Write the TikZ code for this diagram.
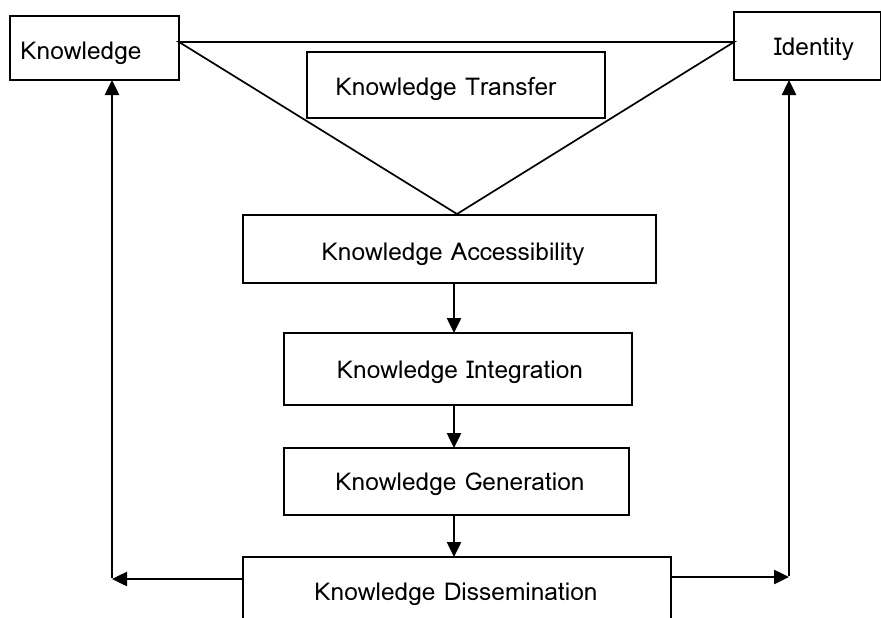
\documentclass[tikz,border=0pt]{standalone}
\usepackage{fontspec}
\newfontfamily\thaifont[Script=Thai]{Loma}
\usetikzlibrary{arrows.meta}
\begin{document}
\begin{tikzpicture}[x=1pt,y=-1pt,
  box/.style={draw,line width=1.7pt},
  lbl/.style={font=\thaifont\fontsize{24.5}{28}\selectfont,inner sep=0pt,yshift=-3pt},
  line/.style={line width=1.7pt},
  arr/.style={line width=2.5pt,-{Triangle[length=15pt,width=14pt]}}]
\useasboundingbox (0,0) rectangle (881,618);
% boxes
\draw[box] (10,16) rectangle (179,80);
\node[lbl] (k) at (81,50) {Knowledge};
\coordinate (kR) at (179,42);
\coordinate (kB) at (112,80);
\draw[box] (734,12) rectangle (880.6,80);
\node[lbl] (id) at (814,46) {Identity};
\coordinate (iL) at (734,42);
\coordinate (iB) at (789,80);
\draw[box] (307,52) rectangle (605,118);
\node[lbl] (kt) at (446,86) {Knowledge Transfer};
\draw[box] (243,215) rectangle (656,283);
\node[lbl] (ka) at (453,251) {Knowledge Accessibility};
\coordinate (apex) at (457,214);
\draw[box] (284,333) rectangle (632,405);
\node[lbl] (ki) at (460,369) {Knowledge Integration};
\draw[box] (284,448) rectangle (629,515);
\node[lbl] (kg) at (460,481) {Knowledge Generation};
\draw[box] (243,640) -- (243,557) -- (671,557) -- (671,640);
\node[lbl] (kd) at (456,591) {Knowledge Dissemination};
% triangle
\draw[line] (kR) -- (iL) -- (apex) -- cycle;
% down arrows
\coordinate (a1) at (454,283); \coordinate (a2) at (454,333);
\coordinate (b1) at (454,405); \coordinate (b2) at (454,448);
\coordinate (c1) at (454,515); \coordinate (c2) at (454,557);
\draw[arr] (a1) -- (a2);
\draw[arr] (b1) -- (b2);
\draw[arr] (c1) -- (c2);
% side arrows
\coordinate (dL) at (243,579); \coordinate (lc) at (112,579);
\coordinate (dR) at (671,577); \coordinate (rc) at (789,577);
\draw[arr] (dL) -- (lc);
\draw[arr] ([yshift=1pt]lc) -- (kB);
\draw[arr] (dR) -- (rc);
\draw[arr] ([yshift=1pt]rc) -- (iB);
\end{tikzpicture}
\end{document}
